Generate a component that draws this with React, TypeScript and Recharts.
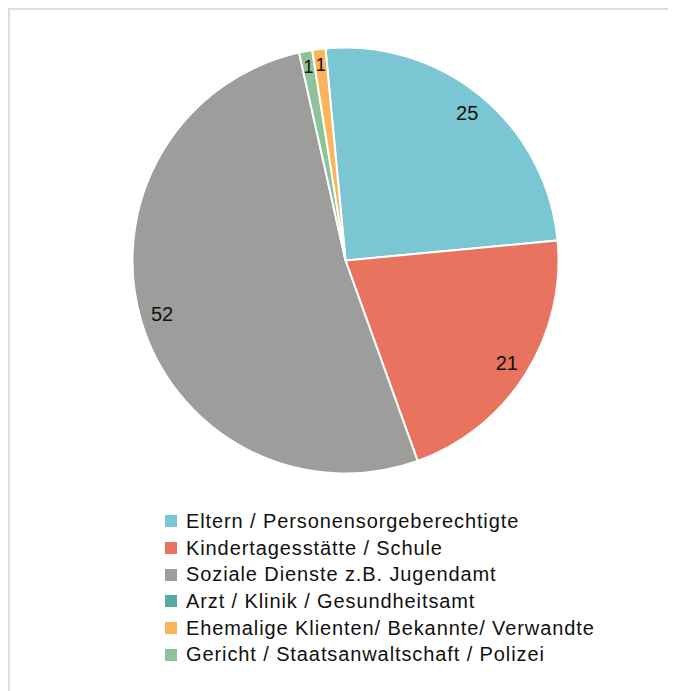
import { PieChart, Pie, Cell, Legend } from "recharts";

// legend order
const categories = [
  "Eltern / Personensorgeberechtigte",
  "Kindertagesstätte / Schule",
  "Soziale Dienste z.B. Jugendamt",
  "Arzt / Klinik / Gesundheitsamt",
  "Ehemalige Klienten/ Bekannte/ Verwandte",
  "Gericht / Staatsanwaltschaft / Polizei",
];
const values = [25, 21, 52, 0, 1, 1];
const colors = ["#7ac7d3", "#e8735e", "#9d9d9b", "#5aa9a6", "#f9b45c", "#8ec39a"];

// order the slices are drawn in, clockwise
const sliceOrder = [0, 1, 2, 3, 5, 4];

const RAD = Math.PI / 180;
const FONT = "'Liberation Sans', Arial, Helvetica, sans-serif";

const renderLabel = (props: any) => {
  const { cx, cy, midAngle, outerRadius, value } = props;
  if (!value) return null;
  const r = value < 5 ? outerRadius - 16 : outerRadius - 22;
  const x = cx + r * Math.cos(-midAngle * RAD);
  const y = cy + r * Math.sin(-midAngle * RAD);
  return (
    <text
      x={x}
      y={y}
      fill="#111"
      fontSize={value < 5 ? 18 : 20}
      fontFamily={FONT}
      textAnchor="middle"
      dominantBaseline="central"
    >
      {value}
    </text>
  );
};

const renderLegend = () => (
  <div style={{ fontFamily: FONT, fontSize: 20, color: "#111" }}>
    {categories.map((name, i) => (
      <div key={name} style={{ display: "flex", alignItems: "center", height: 26.7 }}>
        <span
          style={{
            display: "inline-block",
            width: 12,
            height: 12,
            background: colors[i],
            marginRight: 9,
          }}
        />
        <span style={{ letterSpacing: 0.9 }}>{name}</span>
      </div>
    ))}
  </div>
);

export default function App() {
  const data = sliceOrder.map((i) => ({ name: categories[i], value: values[i], color: colors[i] }));
  return (
    <div
      style={{
        position: "relative",
        width: 666,
        height: 681,
        borderTop: "2px solid #dedede",
        borderLeft: "2px solid #dedede",
      }}
    >
      <PieChart width={666} height={681} margin={{ top: 0, right: 0, bottom: 0, left: 0 }}>
        <Pie
          data={data}
          dataKey="value"
          nameKey="name"
          cx={335.5}
          cy={250.5}
          outerRadius={213}
          startAngle={95.4}
          endAngle={-264.6}
          stroke="#fff"
          strokeWidth={2}
          label={renderLabel}
          labelLine={false}
          isAnimationActive={false}
        >
          {data.map((d) => (
            <Cell key={d.name} fill={d.color} />
          ))}
        </Pie>
        <Legend
          content={renderLegend}
          wrapperStyle={{ position: "absolute", left: 155, top: 498, width: 500 }}
        />
      </PieChart>
    </div>
  );
}
